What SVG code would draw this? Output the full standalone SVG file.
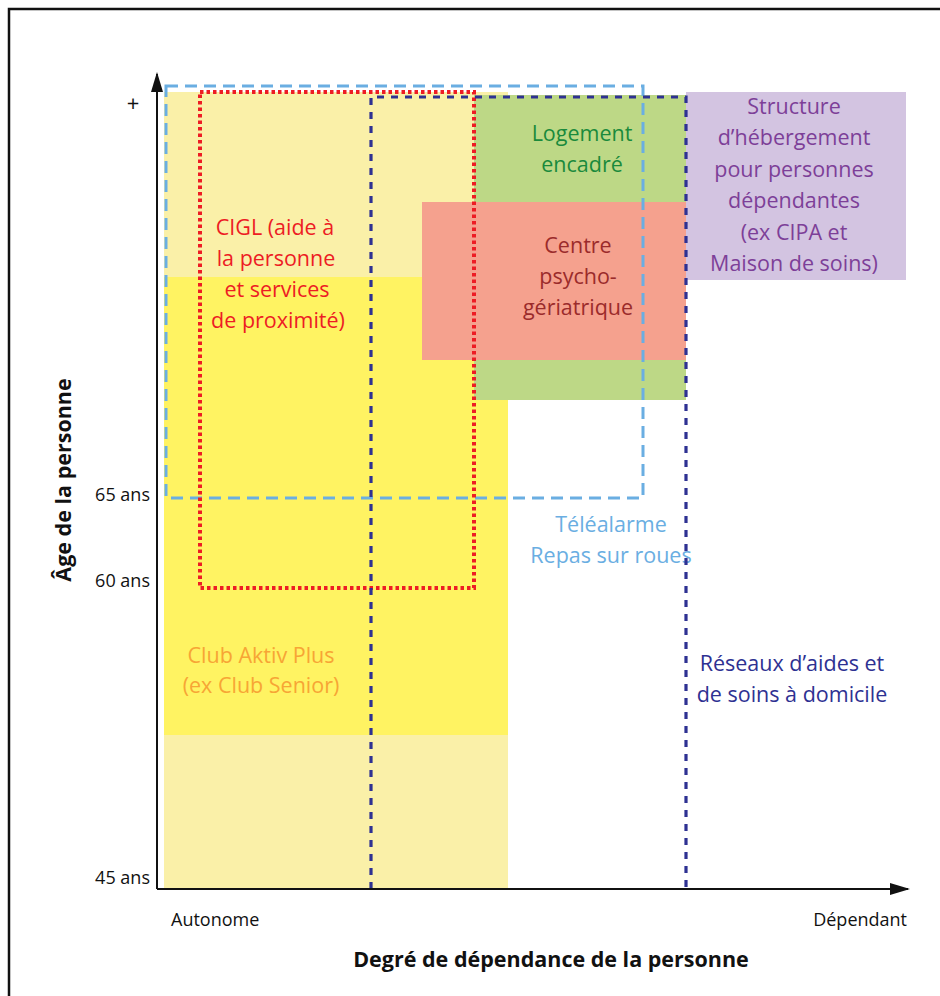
<svg xmlns="http://www.w3.org/2000/svg" width="940" height="996" viewBox="0 0 940 996">
<defs>
<style>
text{font-family:"Open Sans","Noto Sans","Liberation Sans",sans-serif;}
.lbl{font-size:21.5px;text-anchor:middle;}
.tick{font-size:18px;fill:#111;}
.title{font-size:21.5px;font-weight:bold;fill:#111;text-anchor:middle;}
.axis{stroke:#111;stroke-width:2;fill:none;}
</style>
<marker id="arr" viewBox="0 0 20 12" refX="18" refY="6" markerWidth="20" markerHeight="12" markerUnits="userSpaceOnUse" orient="auto">
<path d="M0,0 L20,6 L0,12 Z" fill="#111"/>
</marker>
</defs>
<rect x="0" y="0" width="940" height="996" fill="#fff"/>
<rect x="9" y="9" width="960" height="1000" fill="none" stroke="#111" stroke-width="2.5"/>

<g id="pale-yellow"><rect x="164" y="92" width="344" height="797" fill="#faf0a8"/></g>
<g id="club-aktiv"><rect x="164" y="277" width="344" height="458" fill="#fff362"/>
<text class="lbl" x="261" y="663" fill="#f7a535">Club Aktiv Plus</text>
<text class="lbl" x="261" y="693" fill="#f7a535">(ex Club Senior)</text></g>
<g id="logement"><rect x="474" y="95" width="212" height="305" fill="#bdd886"/>
<text class="lbl" x="582" y="141" fill="#1a8a3c">Logement</text>
<text class="lbl" x="582" y="172" fill="#1a8a3c">encadré</text></g>
<g id="centre"><rect x="422" y="202" width="264" height="158" fill="#f5a18e"/>
<text class="lbl" x="578" y="253" fill="#9b2b2b">Centre</text>
<text class="lbl" x="578" y="284" fill="#9b2b2b">psycho-</text>
<text class="lbl" x="578" y="315" fill="#9b2b2b">gériatrique</text></g>
<g id="structure"><rect x="686" y="92" width="220" height="188" fill="#d3c4e1"/>
<text class="lbl" x="794" y="114" fill="#7d3f98">Structure</text>
<text class="lbl" x="794" y="145" fill="#7d3f98">d’hébergement</text>
<text class="lbl" x="794" y="177" fill="#7d3f98">pour personnes</text>
<text class="lbl" x="794" y="208" fill="#7d3f98">dépendantes</text>
<text class="lbl" x="794" y="240" fill="#7d3f98">(ex CIPA et</text>
<text class="lbl" x="794" y="271" fill="#7d3f98">Maison de soins)</text></g>

<g id="teleal"><rect x="166" y="86" width="477" height="412" fill="none" stroke="#6aaee2" stroke-width="3" stroke-dasharray="12 7"/>
<text class="lbl" x="611" y="532" fill="#6aaee2">Téléalarme</text>
<text class="lbl" x="611" y="563" fill="#6aaee2">Repas sur roues</text></g>
<g id="cigl"><rect x="200" y="92" width="274" height="496" fill="none" stroke="#ed1c24" stroke-width="4" stroke-dasharray="3.5 3"/>
<text class="lbl" x="275" y="235" fill="#ed1c24">CIGL (aide à</text>
<text class="lbl" x="276" y="266" fill="#ed1c24">la personne</text>
<text class="lbl" x="277" y="297" fill="#ed1c24">et services</text>
<text class="lbl" x="278" y="328" fill="#ed1c24">de proximité)</text></g>
<g id="reseaux"><path d="M371,889 V97 H686 V889" fill="none" stroke="#2e3192" stroke-width="3.2" stroke-dasharray="7 7"/>
<text class="lbl" x="792" y="671" fill="#2e3192">Réseaux d’aides et</text>
<text class="lbl" x="792" y="702" fill="#2e3192">de soins à domicile</text></g>

<g id="connectors">
<line class="axis" x1="157" y1="889" x2="157" y2="74" marker-end="url(#arr)"/>
<line class="axis" x1="157" y1="889" x2="908" y2="889" marker-end="url(#arr)"/>
</g>

<g id="axis-labels">
<text x="133" y="111" text-anchor="middle" font-size="22" fill="#111">+</text>
<text class="tick" x="150" y="501" text-anchor="end">65 ans</text>
<text class="tick" x="150" y="587" text-anchor="end">60 ans</text>
<text class="tick" x="150" y="884" text-anchor="end">45 ans</text>
<text class="tick" x="171" y="926">Autonome</text>
<text class="tick" x="907" y="926" text-anchor="end">Dépendant</text>
<text class="title" x="551" y="967">Degré de dépendance de la personne</text>
<text class="title" transform="translate(71,480) rotate(-90)" x="0" y="0">Âge de la personne</text>
</g>
</svg>
